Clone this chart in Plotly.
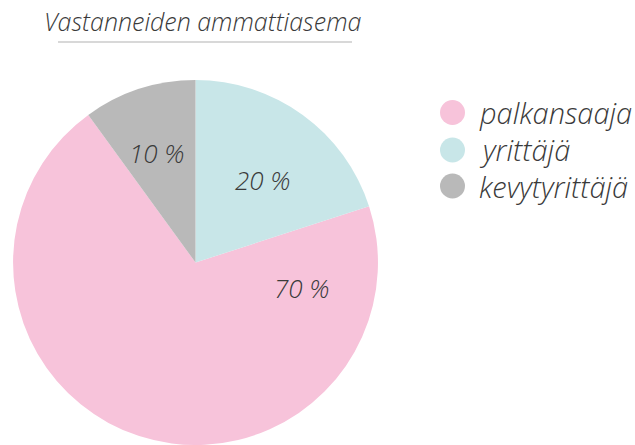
import plotly.graph_objects as go

title_text = "Vastanneiden ammattiasema"
categories = ["palkansaaja", "yrittäjä", "kevytyrittäjä"]
values = [70, 20, 10]
colors = ["#f7c3da", "#c8e6e8", "#b9b9b9"]

W, H = 635, 445
FONT = "Open Sans"
TXT = "#3a3a3a"

# label placement (pixels) for the percentage texts
label_pos = [(302, 288), (263, 180), (157, 153)]
# manual legend placement (pixels)
leg_cx, leg_r, leg_tx = 452.5, 12.5, 477
leg_y = [112.5, 150, 186]


def px(x):
    return x / W


def py(y):
    return 1 - y / H


fig = go.Figure()
fig.add_trace(go.Pie(
    labels=categories, values=values, sort=False,
    direction="counterclockwise", rotation=72,
    marker=dict(colors=colors, line=dict(width=0)),
    textinfo="none", hoverinfo="label+percent",
    showlegend=False,
    domain=dict(x=[0.0205, 0.5953], y=[0.0, 0.82]),
))

total = sum(values)
annotations = []
shapes = []
for v, (lx, ly) in zip(values, label_pos):
    annotations.append(dict(
        text=f"{round(100 * v / total)} %", x=px(lx), y=py(ly),
        xref="paper", yref="paper", xanchor="center", yanchor="middle",
        showarrow=False,
        font=dict(family=FONT, size=26, color=TXT, style="italic", weight=300),
    ))

# title + underline
annotations.append(dict(
    text=title_text, x=px(202), y=py(21), xref="paper", yref="paper",
    xanchor="center", yanchor="middle", showarrow=False,
    font=dict(family=FONT, size=25, color=TXT, style="italic", weight=300),
))
shapes.append(dict(type="line", xref="paper", yref="paper",
                   x0=px(58), x1=px(352), y0=py(42), y1=py(42),
                   line=dict(color="#d8d8d8", width=2)))

# legend with circle symbols
for c, col, yy in zip(categories, colors, leg_y):
    shapes.append(dict(type="circle", xref="paper", yref="paper",
                       x0=px(leg_cx - leg_r), x1=px(leg_cx + leg_r),
                       y0=py(yy + leg_r), y1=py(yy - leg_r),
                       fillcolor=col, line=dict(width=0)))
    annotations.append(dict(
        text=c, x=px(leg_tx), y=py(yy), xref="paper", yref="paper",
        xanchor="left", yanchor="middle", showarrow=False,
        font=dict(family=FONT, size=29, color=TXT, style="italic", weight=300),
    ))

fig.update_layout(
    width=W, height=H,
    margin=dict(l=0, r=0, t=0, b=0),
    paper_bgcolor="white", plot_bgcolor="white",
    annotations=annotations,
    shapes=shapes,
    showlegend=False,
)

fig.write_html("out.html", config={"displayModeBar": False},
               post_script="document.body.style.margin='0';")
